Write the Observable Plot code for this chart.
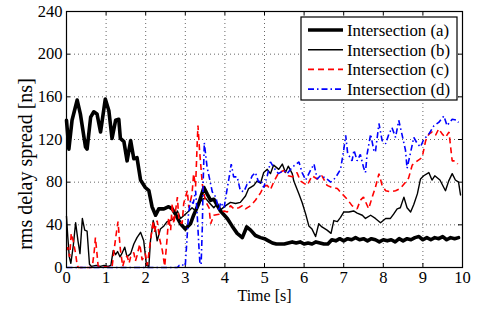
<!DOCTYPE html>
<html><head><meta charset="utf-8">
<script src="https://cdn.jsdelivr.net/npm/d3@7"></script>
<script src="https://cdn.jsdelivr.net/npm/@observablehq/plot@0.6"></script>
<style>
body{margin:0;background:#fff;}
#chart{position:relative;width:477px;height:309px;}
#chart svg text{font-family:"Liberation Serif","Times New Roman",serif;}
</style></head><body><div id="chart"></div>
<script>
const xTicks = [0,1,2,3,4,5,6,7,8,9,10];
const yTicks = [0,40,80,120,160,200,240];
const xLabel = "Time [s]";
const yLabel = "rms delay spread [ns]";
const seriesNames = ["Intersection (a)","Intersection (b)","Intersection (c)","Intersection (d)"];

// [time s, rms delay spread ns]
const intersectionA = [[0,138],[0.06,111],[0.14,138],[0.27,157],[0.35,144],[0.48,113],[0.52,111],[0.61,141],[0.69,146],[0.77,144],[0.86,127],[0.98,158],[1.07,147],[1.15,121],[1.24,138],[1.32,139],[1.36,121],[1.45,118],[1.53,100],[1.62,119],[1.70,102],[1.78,103],[1.87,82],[1.99,75],[2.08,72],[2.16,57],[2.25,49],[2.33,55],[2.46,55],[2.58,57],[2.67,55],[2.75,50],[2.88,41],[3.0,36],[3.13,41],[3.21,49],[3.34,60],[3.47,75],[3.55,69],[3.64,63],[3.72,64],[3.81,58],[3.89,53],[4.06,46],[4.18,39],[4.31,32],[4.44,28],[4.55,38],[4.65,35],[4.77,30],[4.9,28],[5.0,27],[5.1,25],[5.2,23],[5.3,22],[5.4,22],[5.5,22],[5.6,23],[5.7,24],[5.8,23],[5.9,24],[6.0,22],[6.1,23],[6.2,22],[6.3,24],[6.4,23],[6.5,22],[6.6,22],[6.7,26],[6.8,25],[6.9,27],[7.0,25],[7.1,27],[7.2,26],[7.3,28],[7.4,26],[7.5,27],[7.6,25],[7.7,27],[7.8,26],[7.9,24],[8.0,26],[8.1,25],[8.2,26],[8.3,24],[8.4,27],[8.5,25],[8.6,27],[8.7,26],[8.8,28],[8.9,29],[9.0,26],[9.1,28],[9.2,26],[9.3,28],[9.4,27],[9.5,29],[9.6,26],[9.7,28],[9.8,27],[9.9,28]];

const intersectionB = [[0,48],[0.03,30],[0.07,10],[0.11,4],[0.17,20],[0.23,42],[0.29,25],[0.34,13],[0.4,46],[0.46,35],[0.52,34],[0.58,3],[0.63,1],[0.75,2],[0.85,1],[0.95,2],[1.05,1],[1.12,2],[1.18,16],[1.24,12],[1.29,15],[1.35,10],[1.41,14],[1.47,19],[1.53,10],[1.62,13],[1.70,22],[1.78,28],[1.87,33],[1.95,25],[2.02,2],[2.08,1],[2.12,25],[2.19,44],[2.25,35],[2.29,25],[2.37,36],[2.46,39],[2.54,43],[2.62,44],[2.71,46],[2.8,53],[2.88,46],[3.0,50],[3.09,53],[3.17,56],[3.26,53],[3.34,60],[3.43,64],[3.51,65],[3.6,61],[3.72,56],[3.81,60],[3.89,54],[4.02,58],[4.14,61],[4.27,60],[4.39,61],[4.52,67],[4.6,74],[4.73,77],[4.81,81],[4.9,79],[4.98,89],[5.07,92],[5.15,88],[5.23,96],[5.36,92],[5.45,97],[5.53,89],[5.6,95],[5.7,88],[5.74,81],[5.87,69],[5.95,61],[6.04,50],[6.12,39],[6.2,36],[6.29,29],[6.37,41],[6.45,38],[6.58,35],[6.68,32],[6.75,44],[6.84,43],[6.92,47],[7.0,52],[7.13,52],[7.25,53],[7.34,51],[7.47,49],[7.55,46],[7.68,49],[7.8,46],[7.93,42],[8.06,46],[8.18,46],[8.26,50],[8.35,55],[8.43,56],[8.52,66],[8.6,56],[8.69,52],[8.77,59],[8.86,69],[8.94,83],[9.02,86],[9.15,89],[9.23,82],[9.3,86],[9.43,82],[9.57,72],[9.65,81],[9.74,88],[9.82,82],[9.9,80],[9.95,68]];

const intersectionC = [[0,16],[0.03,19],[0.08,10],[0.12,32],[0.17,25],[0.23,13],[0.27,2],[0.3,0],[0.65,0],[0.7,15],[0.73,28],[0.77,13],[0.8,1],[1.15,0],[1.19,13],[1.25,30],[1.3,43],[1.36,17],[1.42,1],[1.47,8],[1.53,11],[1.58,4],[1.62,10],[1.7,14],[1.74,6],[1.78,11],[1.85,22],[1.91,7],[1.99,13],[2.04,2],[2.12,25],[2.19,44],[2.22,33],[2.29,44],[2.35,27],[2.42,16],[2.48,1],[2.54,27],[2.58,47],[2.63,35],[2.67,60],[2.71,41],[2.8,66],[2.84,44],[2.92,41],[2.96,60],[3.05,72],[3.09,56],[3.17,69],[3.21,88],[3.26,76],[3.3,116],[3.32,133],[3.36,110],[3.43,78],[3.51,62],[3.6,56],[3.64,41],[3.72,49],[3.85,50],[3.98,53],[4.06,52],[4.14,58],[4.23,55],[4.35,56],[4.44,58],[4.52,55],[4.65,58],[4.77,63],[4.9,70],[4.98,76],[5.07,77],[5.15,73],[5.23,80],[5.36,89],[5.49,91],[5.6,86],[5.7,85],[5.82,89],[5.91,81],[6.08,77],[6.2,86],[6.33,83],[6.45,86],[6.58,77],[6.71,75],[6.84,74],[6.96,69],[7.09,64],[7.21,58],[7.34,55],[7.42,63],[7.5,66],[7.63,55],[7.72,66],[7.8,75],[7.89,88],[7.97,77],[8.06,72],[8.18,71],[8.31,72],[8.43,74],[8.56,80],[8.64,84],[8.73,96],[8.86,100],[8.98,103],[9.07,119],[9.15,125],[9.23,127],[9.32,124],[9.4,130],[9.49,125],[9.57,122],[9.66,127],[9.7,113],[9.74,100],[9.82,100],[9.88,97]];

const intersectionD = [[0,0],[2.8,0],[2.85,2],[2.92,3],[2.97,1],[3.0,2],[3.04,25],[3.08,50],[3.13,63],[3.2,60],[3.26,72],[3.3,50],[3.34,22],[3.37,3],[3.4,3],[3.43,38],[3.45,78],[3.48,117],[3.55,94],[3.62,82],[3.68,71],[3.77,66],[3.85,53],[3.89,61],[3.98,56],[4.04,70],[4.1,83],[4.16,97],[4.22,85],[4.31,85],[4.39,72],[4.48,71],[4.56,78],[4.6,78],[4.69,86],[4.77,89],[4.85,80],[4.9,82],[4.98,75],[5.07,86],[5.15,99],[5.23,94],[5.35,88],[5.49,91],[5.57,88],[5.7,94],[5.87,99],[5.95,89],[6.04,82],[6.16,91],[6.25,97],[6.33,83],[6.41,86],[6.54,84],[6.67,80],[6.79,84],[6.92,92],[7.0,110],[7.05,124],[7.1,107],[7.21,100],[7.26,110],[7.34,100],[7.42,106],[7.5,94],[7.55,89],[7.59,106],[7.68,125],[7.76,110],[7.8,108],[7.89,135],[7.97,119],[8.06,116],[8.14,125],[8.22,131],[8.31,122],[8.39,138],[8.47,125],[8.56,110],[8.6,93],[8.69,108],[8.77,122],[8.86,116],[8.94,113],[9.02,120],[9.15,125],[9.28,133],[9.4,136],[9.53,142],[9.61,133],[9.74,139],[9.86,138],[9.9,136]];

const W = 477, H = 309, mL = 66, mR = 15, mT = 11, mB = 42;
const fW = W - mL - mR, fH = H - mT - mB;
const font = "Liberation Serif, Times New Roman, serif";
const lineStyles = [
  {stroke:"#000", strokeWidth:3.6, strokeLinejoin:"round", strokeLinecap:"round"},
  {stroke:"#000", strokeWidth:1.4, strokeLinejoin:"round", strokeLinecap:"round"},
  {stroke:"#ff0000", strokeWidth:1.6, strokeDasharray:"6,4", strokeLinecap:"butt", strokeLinejoin:"miter"},
  {stroke:"#0000ff", strokeWidth:1.6, strokeDasharray:"6,3,1.5,3", strokeLinecap:"butt", strokeLinejoin:"miter"}
];
const allSeries = [intersectionA, intersectionB, intersectionC, intersectionD];

const plot = Plot.plot({
  width: W, height: H,
  marginLeft: mL, marginRight: mR, marginTop: mT, marginBottom: mB,
  style: {fontFamily: font, fontSize: "16px", background: "#fff", color: "#000", overflow: "visible"},
  x: {domain: [0, 10], ticks: xTicks, label: null},
  y: {domain: [0, 240], ticks: yTicks, label: null},
  marks: [
    Plot.gridX(xTicks, {stroke: "#000", strokeOpacity: 0.6, strokeDasharray: "1,3"}),
    Plot.gridY(yTicks, {stroke: "#000", strokeOpacity: 0.6, strokeDasharray: "1,3"}),
    Plot.axisX({ticks: xTicks, tickSize: 0, tickPadding: 4, fontSize: 16.5, fontFamily: font, label: null}),
    Plot.axisY({ticks: yTicks, tickSize: 0, tickPadding: 4, fontSize: 16.5, fontFamily: font, label: null}),
    Plot.tickX(xTicks, {x: d => d, insetTop: fH - 4, stroke: "#000"}),
    Plot.tickX(xTicks, {x: d => d, insetBottom: fH - 4, stroke: "#000"}),
    Plot.tickY(yTicks, {y: d => d, insetRight: fW - 4, stroke: "#000"}),
    Plot.tickY(yTicks, {y: d => d, insetLeft: fW - 4, stroke: "#000"}),
    ...allSeries.map((s, i) => Plot.line(s, {x: d => d[0], y: d => d[1], ...lineStyles[i]})),
    Plot.frame({stroke: "#000", strokeWidth: 1.2}),
    Plot.text([xLabel], {text: d => d, frameAnchor: "bottom", dy: 33, fontSize: 16, fontFamily: font, fill: "#000"})
  ]
});

const svg = d3.select(plot);
// y axis label
svg.append("text")
  .attr("transform", "translate(25,164) rotate(-90)")
  .attr("text-anchor", "middle").attr("dy", "0.35em")
  .attr("font-family", font).attr("font-size", 20).attr("fill", "#000")
  .text(yLabel);

// legend inside the plot area (top right)
const lg = svg.append("g").attr("transform", "translate(301,17)");
lg.append("rect").attr("width", 156).attr("height", 83).attr("fill", "#fff").attr("stroke", "#000").attr("stroke-width", 1.2);
seriesNames.forEach((name, i) => {
  const y = 13 + i * 19.7;
  const st = lineStyles[i];
  lg.append("path").attr("d", `M7,${y}H42`)
    .attr("fill", "none")
    .attr("stroke", st.stroke).attr("stroke-width", st.strokeWidth)
    .attr("stroke-dasharray", st.strokeDasharray || "none").attr("stroke-linecap", "butt");
  lg.append("text").attr("x", 46).attr("y", y).attr("dy", "0.35em")
    .attr("text-anchor", "start")
    .attr("font-family", font).attr("font-size", 16.8).attr("fill", "#000").text(name);
});

document.getElementById("chart").appendChild(plot);
</script></body></html>
